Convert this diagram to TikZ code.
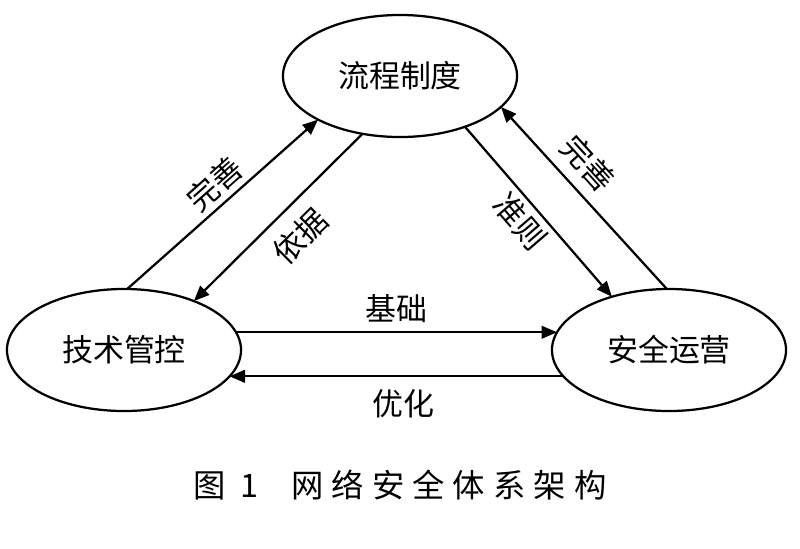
\documentclass[tikz,border=0pt]{standalone}
\usepackage{fontspec}
\setmainfont{Noto Sans CJK SC}
\newfontfamily\capfont[LetterSpace=25]{Noto Sans CJK SC}
\usetikzlibrary{shapes.geometric,arrows.meta}
\begin{document}
\begin{tikzpicture}[x=0.025cm,y=-0.025cm,
  part/.style={draw,ellipse,line width=1.6pt,minimum width=5.85cm,minimum height=3.05cm,inner sep=0pt,outer sep=0pt,font=\fontsize{22}{26}\selectfont},
  link/.style={line width=1.6pt,-{Triangle[length=11pt,width=9pt]}},
  tag/.style={font=\fontsize{22}{26}\selectfont,sloped}]
\useasboundingbox (0,0) rectangle (800,548);
\node[part] (T) at (400,76) {流程制度};
\node[part] (L) at (124,350) {技术管控};
\node[part] (R) at (669,350) {安全运营};
\draw[link] (L.87) -- (T.208) node[tag,pos=0.53,above] {完善};
\draw[link] (T.237) -- (L.35) node[tag,pos=0.49,below=6pt] {依据};
\draw[link] (T.322) -- (R.137) node[tag,pos=0.48,below] {准则};
\draw[link] (R.92) -- (T.343) node[tag,pos=0.59,above=4.5pt] {完善};
\draw[link] (L.9) -- (R.171) node[tag,midway,above=3pt] {基础};
\draw[link] (R.194) -- (L.346) node[tag,pos=0.48,below=5pt] {优化};
\node[font=\capfont\fontsize{23}{27}\selectfont] (cap) at (400,485) {图~1\hspace{1em}网络安全体系架构};
\end{tikzpicture}
\end{document}
